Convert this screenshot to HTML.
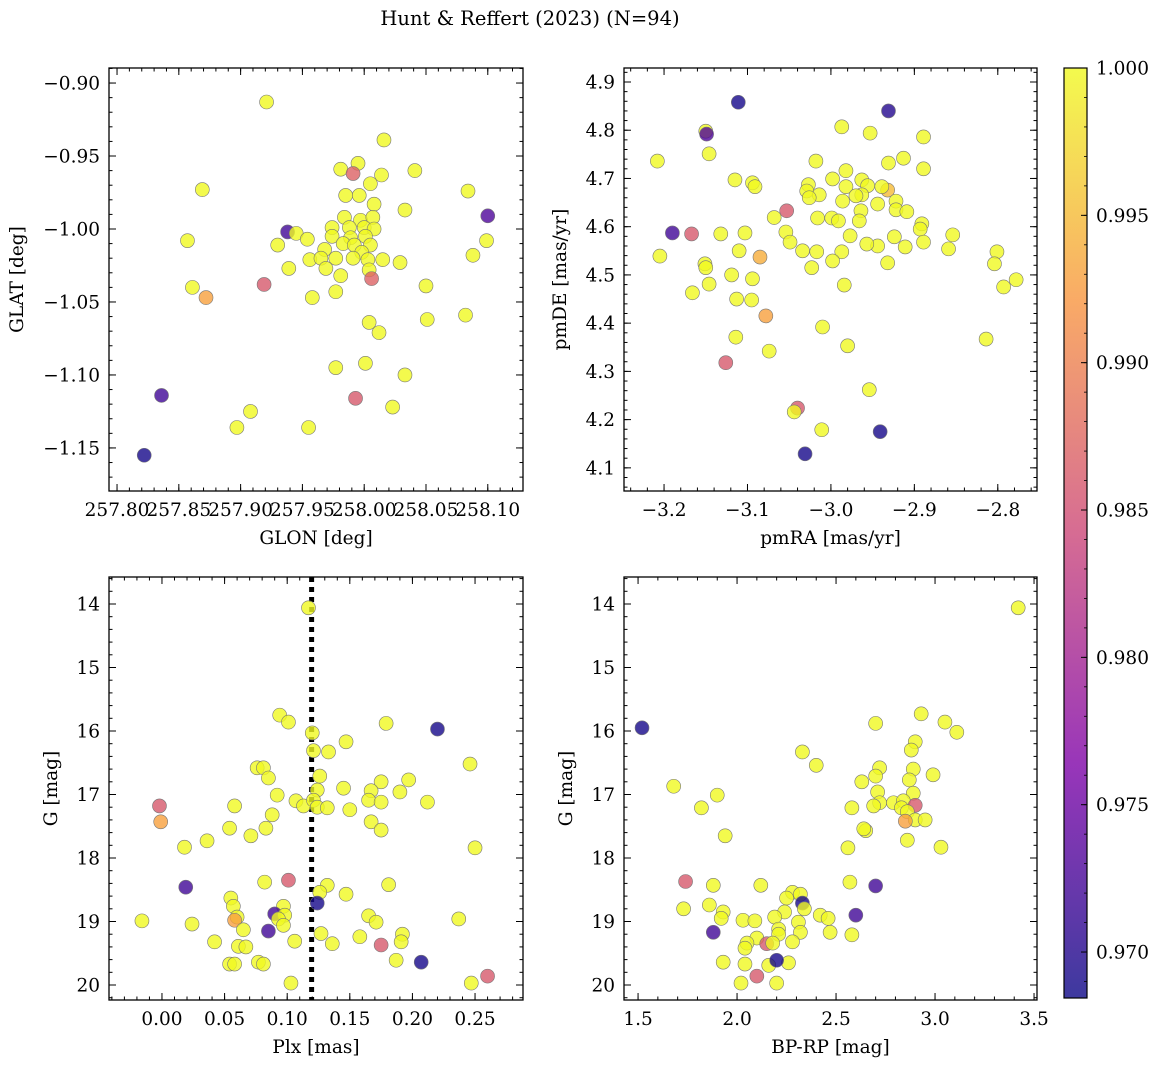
<!DOCTYPE html>
<html><head><meta charset="utf-8">
<style>
html,body{margin:0;padding:0;background:#fff;}
svg{display:block;font-family:"DejaVu Serif","Liberation Serif",serif;}
</style></head>
<body>
<svg id="fig" width="1161" height="1067" viewBox="0 0 1161 1067" xmlns="http://www.w3.org/2000/svg">
<text x="530" y="25" font-size="19.5" text-anchor="middle">Hunt &amp; Reffert (2023) (N=94)</text>
</svg>
<script>
// ---- Panel 1: GLON / GLAT ----
const p1Glon=[257.921,258.016,257.981,257.995,257.991,258.014,258.041,257.869,258.084,258.005,257.985,257.996,258.008,258.033,257.984,257.997,258.007,258.100,257.974,257.988,258.000,258.008,257.938,257.945,257.954,257.974,257.989,258.001,257.857,257.930,257.983,257.992,258.005,258.099,257.968,257.998,257.956,257.965,257.977,257.991,258.003,258.015,258.029,258.088,257.939,257.969,258.004,257.981,258.006,257.919,257.861,258.050,257.977,257.872,257.958,258.082,258.004,258.051,258.012,257.977,258.001,258.033,257.836,257.993,258.023,257.908,257.897,257.955,257.822];
const p1Glat=[-0.913,-0.939,-0.959,-0.955,-0.962,-0.963,-0.960,-0.973,-0.974,-0.969,-0.977,-0.977,-0.983,-0.987,-0.992,-0.994,-0.992,-0.991,-0.999,-0.999,-0.999,-1.000,-1.002,-1.003,-1.007,-1.005,-1.006,-1.005,-1.008,-1.011,-1.010,-1.011,-1.011,-1.008,-1.014,-1.016,-1.021,-1.020,-1.020,-1.020,-1.021,-1.021,-1.023,-1.018,-1.027,-1.027,-1.028,-1.032,-1.034,-1.038,-1.040,-1.039,-1.043,-1.047,-1.047,-1.059,-1.064,-1.062,-1.071,-1.095,-1.092,-1.100,-1.114,-1.116,-1.122,-1.125,-1.136,-1.136,-1.155];
const p1Prob=[1,1,1,1,0.987,1,1,1,1,1,1,1,1,1,1,1,1,0.973,1,1,1,1,0.972,1,1,1,1,1,1,1,1,1,1,1,1,1,1,1,1,1,1,1,1,1,1,1,1,1,0.987,0.986,1,1,1,0.993,1,1,1,1,1,1,1,1,0.972,0.986,1,1,1,1,0.969];
// ---- Panel 2: pmRA / pmDE ----
const p2PmRA=[-3.111,-2.931,-3.150,-3.149,-2.987,-2.953,-2.889,-3.146,-3.208,-3.018,-2.931,-2.913,-2.982,-2.889,-2.998,-2.963,-3.115,-3.094,-3.027,-2.982,-2.956,-3.091,-3.029,-3.014,-2.963,-2.932,-2.970,-3.026,-2.986,-2.944,-2.922,-2.939,-3.053,-2.922,-2.964,-3.016,-2.999,-3.068,-2.991,-2.966,-2.891,-2.909,-2.893,-3.103,-3.054,-3.190,-3.167,-3.132,-2.977,-3.049,-2.924,-2.889,-2.944,-2.957,-2.911,-2.859,-2.854,-3.110,-3.034,-3.017,-2.987,-2.998,-3.205,-3.085,-2.801,-3.151,-3.150,-3.023,-3.119,-3.094,-2.932,-2.804,-2.778,-2.793,-3.146,-2.984,-3.166,-3.113,-3.095,-3.078,-3.114,-3.010,-3.074,-2.980,-3.126,-2.814,-2.954,-3.040,-3.044,-3.011,-2.941,-3.031];
const p2PmDE=[4.858,4.840,4.798,4.792,4.807,4.794,4.786,4.751,4.736,4.736,4.732,4.742,4.716,4.720,4.699,4.697,4.697,4.691,4.687,4.683,4.685,4.683,4.674,4.666,4.666,4.676,4.664,4.660,4.653,4.647,4.653,4.683,4.633,4.635,4.633,4.618,4.618,4.619,4.612,4.612,4.606,4.631,4.595,4.587,4.589,4.587,4.585,4.585,4.581,4.568,4.579,4.568,4.560,4.564,4.558,4.554,4.583,4.550,4.550,4.548,4.548,4.529,4.539,4.537,4.548,4.523,4.515,4.515,4.500,4.492,4.525,4.523,4.490,4.475,4.481,4.479,4.463,4.450,4.448,4.415,4.371,4.392,4.342,4.353,4.318,4.367,4.262,4.224,4.216,4.179,4.175,4.129];
const p2Prob=[0.969,0.970,1,0.973,1,1,1,1,1,1,1,1,1,1,1,1,1,1,1,1,1,1,1,1,1,0.995,1,1,1,1,1,1,0.986,1,1,1,1,1,1,1,1,1,1,1,1,0.972,0.986,1,1,1,1,1,1,1,1,1,1,1,1,1,1,1,1,0.994,1,1,1,1,1,1,1,1,1,1,1,1,1,1,1,0.993,1,1,1,1,0.986,1,1,0.986,1,1,0.969,0.969];
// ---- Panel 3: Plx / G ----
const p3Plx=[0.117,0.094,0.101,0.179,0.120,0.220,0.147,0.133,0.121,0.246,0.076,0.081,0.126,0.085,0.197,0.175,0.092,0.124,0.145,0.167,0.190,0.165,0.107,0.113,0.121,0.124,0.132,0.175,0.212,-0.002,0.058,0.150,0.088,0.167,0.083,-0.001,0.054,0.175,0.071,0.036,0.018,0.250,0.181,0.082,0.101,0.132,0.126,0.019,0.147,0.055,0.124,0.057,0.097,0.060,0.090,0.098,0.093,0.058,-0.016,0.165,0.024,0.171,0.237,0.097,0.127,0.065,0.085,0.192,0.106,0.191,0.158,0.042,0.136,0.061,0.067,0.175,0.054,0.058,0.077,0.081,0.187,0.207,0.260,0.103,0.247];
const p3G=[14.06,15.75,15.86,15.88,16.03,15.97,16.17,16.33,16.31,16.52,16.58,16.58,16.71,16.74,16.77,16.80,17.01,16.93,16.90,16.94,16.96,17.09,17.10,17.18,17.09,17.20,17.21,17.12,17.12,17.18,17.18,17.24,17.32,17.43,17.53,17.43,17.53,17.56,17.65,17.73,17.83,17.84,18.42,18.38,18.35,18.43,18.54,18.46,18.57,18.63,18.71,18.76,18.76,18.93,18.88,18.90,18.96,18.98,18.99,18.91,19.04,19.01,18.96,19.06,19.19,19.13,19.15,19.20,19.31,19.32,19.24,19.32,19.35,19.39,19.40,19.37,19.67,19.67,19.64,19.67,19.61,19.64,19.86,19.97,19.97];
const p3Prob=[1,1,1,1,1,0.969,1,1,1,1,1,1,1,1,1,1,1,1,1,1,1,1,1,1,1,1,1,1,1,0.986,1,1,1,1,1,0.993,1,1,1,1,1,1,1,1,0.986,1,1,0.972,1,1,0.969,1,1,1,0.972,1,1,0.993,1,1,1,1,1,1,1,1,0.972,1,1,1,1,1,1,1,1,0.986,1,1,1,1,1,0.969,0.986,1,1];
const plxLine=0.1195;
// ---- Panel 4: BP-RP / G ----
const p4Col=[3.42,2.93,3.05,3.11,2.70,1.52,2.90,2.88,2.33,2.40,1.68,2.89,2.72,2.63,2.70,2.87,2.99,1.90,2.71,2.89,2.72,2.79,2.84,2.58,2.69,2.90,2.83,2.86,2.90,2.95,2.85,1.82,2.65,2.64,1.94,2.86,3.03,2.56,1.74,1.88,2.12,2.57,2.70,2.28,2.32,2.25,1.86,1.73,2.33,2.34,2.24,2.19,1.93,1.92,2.42,2.46,2.60,2.03,2.09,2.31,2.21,2.32,2.21,2.47,2.58,1.88,2.10,2.05,2.15,2.18,2.28,2.04,1.93,2.04,2.16,2.26,2.20,2.10,2.02,2.20];
const p4G=[14.06,15.73,15.86,16.02,15.88,15.95,16.17,16.30,16.33,16.54,16.87,16.60,16.58,16.80,16.71,16.77,16.69,17.01,16.96,16.98,17.13,17.13,17.10,17.21,17.18,17.17,17.21,17.27,17.40,17.40,17.42,17.21,17.57,17.54,17.65,17.72,17.83,17.84,18.37,18.43,18.43,18.38,18.44,18.54,18.57,18.63,18.74,18.80,18.71,18.80,18.85,18.93,18.85,18.95,18.90,18.95,18.90,18.98,18.99,19.01,19.12,19.17,19.20,19.17,19.21,19.17,19.26,19.34,19.35,19.34,19.32,19.42,19.64,19.67,19.69,19.65,19.61,19.86,19.97,19.97];
const p4Prob=[1,1,1,1,1,0.969,1,1,1,1,1,1,1,1,1,1,1,1,1,1,1,1,1,1,1,0.986,1,1,1,1,0.993,1,1,1,1,1,1,1,0.986,1,1,1,0.972,1,1,1,1,1,0.969,1,1,1,1,1,1,1,0.972,1,1,1,1,1,1,1,1,0.972,1,1,0.986,1,1,1,1,1,1,1,0.969,0.986,1,1];
// colorbar
const cbTicks=[0.970,0.975,0.980,0.985,0.990,0.995,1.000];
const VMIN=0.96844, VMAX=1.0;

const NS='http://www.w3.org/2000/svg';
const svg=document.getElementById('fig');
const FS=18.5;
function mk(tag,attrs,parent){const e=document.createElementNS(NS,tag);for(const k in attrs)e.setAttribute(k,attrs[k]);(parent||svg).appendChild(e);return e;}
const stops=[[13,8,135],[126,3,168],[204,71,120],[248,149,64],[240,249,33]];
function plasma(p){let t=(p-VMIN)/(VMAX-VMIN);t=Math.max(0,Math.min(1,t));const s=t*4;const i=Math.min(3,Math.floor(s));const f=s-i;const a=stops[i],b=stops[i+1];return 'rgb('+a.map((v,k)=>Math.round(v+(b[k]-v)*f)).join(',')+')';}
function fmt(v,d){let s=v.toFixed(d);if(s.startsWith('-'))s='\u2212'+s.slice(1);return s;}

function panel(o){
  const g=mk('g',{});
  
  
  const X=v=>o.x0+(v-o.xmin)/(o.xmax-o.xmin)*(o.x1-o.x0);
  const Y=v=>o.inv? o.y0+(v-o.ymin)/(o.ymax-o.ymin)*(o.y1-o.y0) : o.y1-(v-o.ymin)/(o.ymax-o.ymin)*(o.y1-o.y0);
  const eps=1e-9;
  function ticksX(step,len,labels){const st=Math.ceil(o.xmin/step-eps);for(let k=st;k*step<=o.xmax+eps;k++){const v=k*step,px=X(v);
    mk('line',{x1:px,x2:px,y1:o.y1,y2:o.y1-len,stroke:'#000','stroke-width':1},g);
    mk('line',{x1:px,x2:px,y1:o.y0,y2:o.y0+len,stroke:'#000','stroke-width':1},g);
    if(labels){const t=mk('text',{x:px,y:o.y1+25,'font-size':FS,'text-anchor':'middle'},g);t.textContent=fmt(v,o.xd);
      }}}
  function ticksY(step,len,labels){const lo=Math.min(o.ymin,o.ymax),hi=Math.max(o.ymin,o.ymax);const st=Math.ceil(lo/step-eps);for(let k=st;k*step<=hi+eps;k++){const v=k*step,py=Y(v);
    mk('line',{x1:o.x0,x2:o.x0+len,y1:py,y2:py,stroke:'#000','stroke-width':1},g);
    mk('line',{x1:o.x1,x2:o.x1-len,y1:py,y2:py,stroke:'#000','stroke-width':1},g);
    if(labels){const t=mk('text',{x:o.x0-9,y:py+6.5,'font-size':FS,'text-anchor':'end'},g);t.textContent=fmt(v,o.yd);
      }}}
  ticksX(o.xminor,3.5,false);ticksX(o.xmajor,7,true);
  ticksY(o.yminor,3.5,false);ticksY(o.ymajor,7,true);
  if(o.vline!==undefined){const l=mk('line',{x1:X(o.vline),x2:X(o.vline),y1:o.y0,y2:o.y1,stroke:'#000','stroke-width':5,'stroke-dasharray':'5,5'},g);
    }
  for(let i=0;i<o.xs.length;i++){
    const c=mk('circle',{cx:X(o.xs[i]),cy:Y(o.ys[i]),r:7,fill:plasma(o.ps[i]),'fill-opacity':0.8,stroke:'#777','stroke-width':0.6},g);
    
    
  }
  const fr=mk('rect',{x:o.x0,y:o.y0,width:o.x1-o.x0,height:o.y1-o.y0,fill:'none',stroke:'#000','stroke-width':1.3},g);
  
  const xl=mk('text',{x:(o.x0+o.x1)/2,y:o.y1+53,'font-size':FS,'text-anchor':'middle'},g);xl.textContent=o.xlabel;
  
  const yc=(o.y0+o.y1)/2;
  const yl=mk('text',{x:o.ylx,y:yc,'font-size':FS,'text-anchor':'middle',transform:'rotate(-90 '+o.ylx+' '+yc+')'},g);yl.textContent=o.ylabel;
  
}
panel({name:'glon-glat-panel',x0:109,x1:523,y0:68,y1:491,xmin:257.7935,xmax:258.1285,ymin:-1.1795,ymax:-0.8897,xmajor:0.05,xminor:0.01,ymajor:0.05,yminor:0.01,xd:2,yd:2,xs:p1Glon,ys:p1Glat,ps:p1Prob,xlabel:'GLON [deg]',ylabel:'GLAT [deg]',ylx:23});
panel({name:'proper-motion-panel',x0:624,x1:1037,y0:68,y1:491,xmin:-3.248,xmax:-2.753,ymin:4.052,ymax:4.929,xmajor:0.1,xminor:0.02,ymajor:0.1,yminor:0.02,xd:1,yd:1,xs:p2PmRA,ys:p2PmDE,ps:p2Prob,xlabel:'pmRA [mas/yr]',ylabel:'pmDE [mas/yr]',ylx:566});
panel({name:'parallax-mag-panel',x0:109,x1:523,y0:577,y1:1000,xmin:-0.0423,xmax:0.2883,ymin:13.575,ymax:20.236,inv:true,xmajor:0.05,xminor:0.01,ymajor:1,yminor:0.2,xd:2,yd:0,xs:p3Plx,ys:p3G,ps:p3Prob,xlabel:'Plx [mas]',ylabel:'G [mag]',ylx:57,vline:plxLine});
panel({name:'cmd-panel',x0:624,x1:1037,y0:577,y1:1000,xmin:1.429,xmax:3.515,ymin:13.575,ymax:20.236,inv:true,xmajor:0.5,xminor:0.1,ymajor:1,yminor:0.2,xd:1,yd:0,xs:p4Col,ys:p4G,ps:p4Prob,xlabel:'BP-RP [mag]',ylabel:'G [mag]',ylx:572});

// colorbar
const cb=mk('g',{});


const defs=mk('defs',{});
const lg=mk('linearGradient',{id:'plg',x1:0,y1:1,x2:0,y2:0},defs);
stops.forEach((s,i)=>mk('stop',{offset:(i/4),'stop-color':'rgb('+s.join(',')+')','stop-opacity':0.8},lg));
const cbx0=1064,cbx1=1087,cby0=68,cby1=998;
mk('rect',{x:cbx0,y:cby0,width:cbx1-cbx0,height:cby1-cby0,fill:'url(#plg)',stroke:'#000','stroke-width':1.2},cb);
const CY=v=>cby1-(v-VMIN)/(VMAX-VMIN)*(cby1-cby0);
for(const v of cbTicks){const py=CY(v);
  mk('line',{x1:cbx1,x2:cbx1-6,y1:py,y2:py,stroke:'#000','stroke-width':1},cb);
  const t=mk('text',{x:cbx1+9,y:py+6.5,'font-size':FS},cb);t.textContent=v.toFixed(3);
  
  }
for(let v=0.969;v<1.0;v+=0.001){const py=CY(v);mk('line',{x1:cbx1,x2:cbx1-3,y1:py,y2:py,stroke:'#000','stroke-width':0.8},cb);}
</script>
</body></html>
